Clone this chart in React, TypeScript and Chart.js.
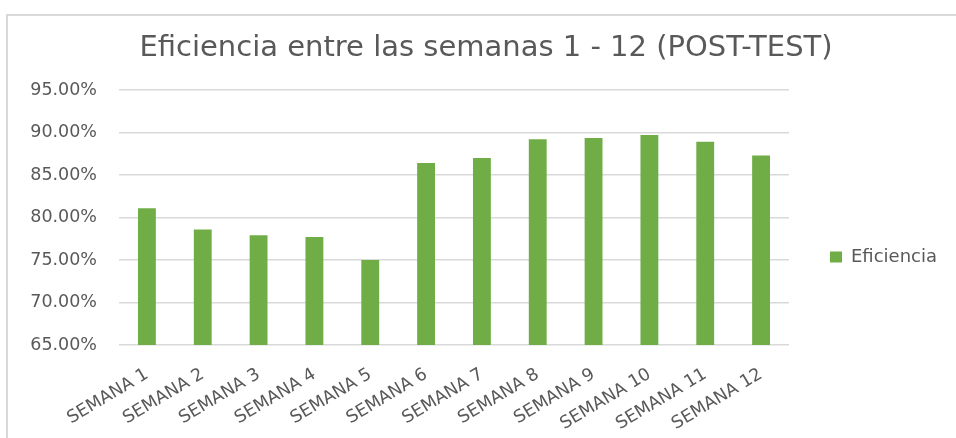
import React, { useEffect, useRef } from "react";
import { Chart, registerables } from "chart.js";

Chart.register(...registerables);

const categories = [
  "SEMANA 1", "SEMANA 2", "SEMANA 3", "SEMANA 4", "SEMANA 5", "SEMANA 6",
  "SEMANA 7", "SEMANA 8", "SEMANA 9", "SEMANA 10", "SEMANA 11", "SEMANA 12",
];
const eficiencia = [81.1, 78.6, 77.9, 77.7, 75.0, 86.4, 87.0, 89.2, 89.35, 89.7, 88.9, 87.3];
const seriesName = "Eficiencia";
const titleText = "Eficiencia entre las semanas 1 - 12 (POST-TEST)";
const yMin = 65;
const yMax = 95;
const yStep = 5;

const FONT = "'DejaVu Sans', sans-serif";
const TEXT = "#595959";
const GRID = "#d9d9d9";
const GREEN = "#70ad47";

const framePlugin = {
  id: "frame",
  beforeDraw(chart: any) {
    const ctx = chart.ctx;
    ctx.save();
    ctx.fillStyle = "#d9d9d9";
    ctx.fillRect(6, 14, chart.width - 6, 2);
    ctx.fillRect(6, 14, 2, chart.height - 14);
    ctx.restore();
  },
};

export default function App() {
  const ref = useRef<HTMLCanvasElement | null>(null);
  useEffect(() => {
    if (!ref.current) return;
    const chart = new Chart(ref.current, {
      type: "bar",
      data: {
        labels: categories,
        datasets: [
          {
            label: seriesName,
            data: eficiencia,
            backgroundColor: GREEN,
            borderWidth: 0,
            barPercentage: 0.32,
            categoryPercentage: 1,
          },
        ],
      },
      plugins: [framePlugin],
      options: {
        responsive: false,
        animation: false,
        layout: { padding: { left: 25, right: 9, top: 0, bottom: 0 } },
        plugins: {
          tooltip: { enabled: false },
          title: {
            display: true,
            text: titleText,
            color: TEXT,
            font: { family: FONT, size: 29, weight: "normal" },
            padding: { top: 30.6, bottom: 24.6 },
          },
          legend: {
            position: "right",
            fullSize: false,
            title: {
              display: true,
              text: "",
              font: { family: FONT, size: 10 },
              padding: { top: 67, bottom: 0 },
            },
            labels: {
              color: TEXT,
              font: { family: FONT, size: 18 },
              boxWidth: 12,
              boxHeight: 11,
              padding: 41,
            },
          },
        },
        scales: {
          x: {
            grid: { display: false, drawTicks: false },
            border: { display: false },
            ticks: {
              color: TEXT,
              font: { family: FONT, size: 17.5 },
              minRotation: 31,
              maxRotation: 31,
              autoSkip: false,
              padding: 19,
            },
            afterFit: (scale: any) => {
              scale.height = 93;
            },
          },
          y: {
            min: yMin,
            max: yMax,
            grid: { color: GRID, lineWidth: 1.5, drawTicks: false },
            border: { display: false },
            ticks: {
              stepSize: yStep,
              color: TEXT,
              font: { family: FONT, size: 17.5 },
              padding: 22,
              callback: (v: any) => Number(v).toFixed(2) + "%",
            },
            afterFit: (scale: any) => {
              scale.width = 94;
            },
          },
        },
      },
    });
    return () => chart.destroy();
  }, []);
  return (
    <div
      style={{
        position: "fixed",
        left: 0,
        top: 0,
        width: 956,
        height: 438,
        background: "#fff",
        overflow: "hidden",
      }}
    >
      <canvas
        ref={ref}
        width={956}
        height={438}
        style={{ position: "absolute", left: 0, top: 0, display: "block" }}
      />
    </div>
  );
}
